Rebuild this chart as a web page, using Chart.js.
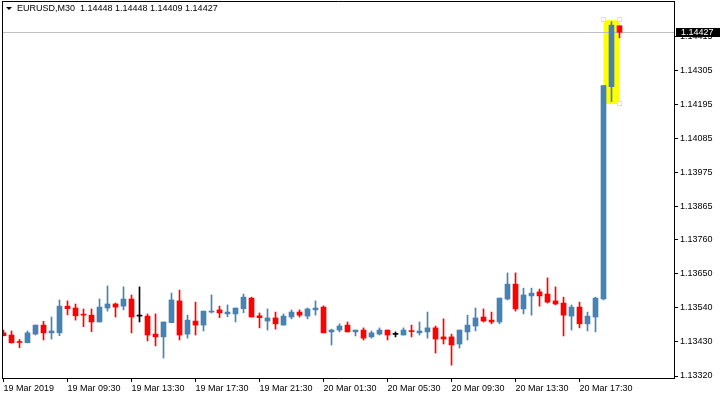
<!DOCTYPE html>
<html>
<head>
<meta charset="utf-8">
<title>EURUSD,M30</title>
<script src="https://cdn.jsdelivr.net/npm/chart.js@4.4.1/dist/chart.umd.min.js"></script>
<style>
  html, body { margin: 0; padding: 0; background: #ffffff; }
  #wrap { position: relative; width: 720px; height: 400px; }
  #c { position: absolute; left: 0; top: 0; }
  #title {
    position: absolute; left: 6px; top: 3px;
    font: 9px "Liberation Sans", Arial, sans-serif; color: #000;
    white-space: pre; line-height: 11px;
  }
  #title .tri {
    display: inline-block; width: 0; height: 0; vertical-align: 1px;
    border-left: 3px solid transparent; border-right: 3px solid transparent;
    border-top: 3px solid #000; margin-right: 5px;
  }
</style>
</head>
<body>
<div id="wrap">
  <canvas id="c" width="720" height="400"></canvas>
  <div id="title"><span class="tri"></span>EURUSD,M30  1.14448 1.14448 1.14409 1.14427</div>
</div>
<script>
// === Data (M30 candles, 19 Mar 05:30 .. 20 Mar 20:00) ===
const opens = [
  1.13459, 1.13452, 1.13431, 1.13427, 1.13455, 1.13484, 1.13459, 1.13459, 1.13545, 1.13539,
  1.13519, 1.13516, 1.13494, 1.13539, 1.13552, 1.13545, 1.13568, 1.13513, 1.13513, 1.13455,
  1.13446, 1.13492, 1.13562, 1.13455, 1.13497, 1.13484, 1.13526, 1.13533, 1.13520, 1.13520,
  1.13537, 1.13571, 1.13514, 1.13497, 1.13507, 1.13484, 1.13510, 1.13526, 1.13513, 1.13533,
  1.13542, 1.13462, 1.13468, 1.13484, 1.13462, 1.13468, 1.13446, 1.13455, 1.13468, 1.13454,
  1.13452, 1.13465, 1.13459, 1.13462, 1.13475, 1.13446, 1.13446, 1.13423, 1.13462, 1.13481,
  1.13510, 1.13500, 1.13494, 1.13568, 1.13616, 1.13536, 1.13578, 1.13591, 1.13584, 1.13562,
  1.13555, 1.13513, 1.13542, 1.13488, 1.13510, 1.13568, 1.14252, 1.14448
];
const highs = [
  1.13468, 1.13465, 1.13438, 1.13465, 1.13484, 1.13496, 1.13510, 1.13565, 1.13562, 1.13552,
  1.13536, 1.13536, 1.13568, 1.13610, 1.13555, 1.13607, 1.13581, 1.13607, 1.13520, 1.13520,
  1.13494, 1.13587, 1.13597, 1.13516, 1.13558, 1.13529, 1.13581, 1.13545, 1.13549, 1.13539,
  1.13584, 1.13574, 1.13523, 1.13536, 1.13526, 1.13520, 1.13533, 1.13533, 1.13539, 1.13562,
  1.13546, 1.13471, 1.13488, 1.13494, 1.13468, 1.13475, 1.13465, 1.13475, 1.13468, 1.13462,
  1.13475, 1.13484, 1.13494, 1.13526, 1.13481, 1.13504, 1.13455, 1.13468, 1.13516, 1.13539,
  1.13536, 1.13526, 1.13571, 1.13652, 1.13652, 1.13603, 1.13603, 1.13600, 1.13636, 1.13607,
  1.13574, 1.13549, 1.13558, 1.13526, 1.13574, 1.14255, 1.14461, 1.14448
];
const lows = [
  1.13449, 1.13426, 1.13411, 1.13427, 1.13452, 1.13436, 1.13439, 1.13450, 1.13517, 1.13500,
  1.13479, 1.13463, 1.13494, 1.13529, 1.13510, 1.13533, 1.13459, 1.13494, 1.13433, 1.13417,
  1.13378, 1.13492, 1.13436, 1.13442, 1.13452, 1.13465, 1.13523, 1.13508, 1.13511, 1.13494,
  1.13524, 1.13510, 1.13475, 1.13468, 1.13471, 1.13484, 1.13504, 1.13510, 1.13504, 1.13516,
  1.13459, 1.13420, 1.13462, 1.13462, 1.13449, 1.13436, 1.13442, 1.13452, 1.13436, 1.13446,
  1.13452, 1.13446, 1.13452, 1.13442, 1.13394, 1.13423, 1.13355, 1.13410, 1.13436, 1.13465,
  1.13494, 1.13488, 1.13488, 1.13565, 1.13529, 1.13520, 1.13516, 1.13545, 1.13555, 1.13549,
  1.13449, 1.13468, 1.13475, 1.13465, 1.13462, 1.13565, 1.14204, 1.14409
];
const closes = [
  1.13450, 1.13427, 1.13428, 1.13459, 1.13484, 1.13459, 1.13465, 1.13545, 1.13537, 1.13514,
  1.13516, 1.13494, 1.13542, 1.13552, 1.13542, 1.13568, 1.13510, 1.13513, 1.13452, 1.13446,
  1.13494, 1.13565, 1.13452, 1.13500, 1.13484, 1.13529, 1.13529, 1.13523, 1.13526, 1.13539,
  1.13574, 1.13510, 1.13508, 1.13507, 1.13488, 1.13513, 1.13526, 1.13516, 1.13536, 1.13539,
  1.13459, 1.13468, 1.13481, 1.13462, 1.13468, 1.13442, 1.13459, 1.13468, 1.13452, 1.13454,
  1.13468, 1.13463, 1.13465, 1.13475, 1.13439, 1.13439, 1.13420, 1.13468, 1.13484, 1.13507,
  1.13497, 1.13494, 1.13571, 1.13616, 1.13536, 1.13581, 1.13587, 1.13578, 1.13558, 1.13552,
  1.13516, 1.13542, 1.13488, 1.13513, 1.13571, 1.14255, 1.14450, 1.14427
];

// axis labels
const timeTickIdx = [0, 8, 16, 24, 32, 40, 48, 56, 64, 72];
const timeLabels = ["19 Mar 2019", "19 Mar 09:30", "19 Mar 13:30", "19 Mar 17:30", "19 Mar 21:30",
                    "20 Mar 01:30", "20 Mar 05:30", "20 Mar 09:30", "20 Mar 13:30", "20 Mar 17:30"];
const priceTicks = [1.14415, 1.14305, 1.14195, 1.14085, 1.13975, 1.13865,
                    1.13760, 1.13650, 1.13540, 1.13430, 1.13320];

// selected rectangle object (candle index / price)
const rectIdx = [75, 77];
const rectPrice = [1.14466, 1.14196];

// === Colours ===
const BULL = "#4682B4";
const BEAR = "#FF0000";
const DOJI = "#000000";
const FONT = { family: "'Liberation Sans', Arial, sans-serif", size: 9 };

const candleColors = closes.map((c, i) => c > opens[i] ? BULL : (c < opens[i] ? BEAR : DOJI));
const bodies = opens.map((o, i) => ({ x: i, y: [o, closes[i]] }));
const wicks = lows.map((l, i) => ({ x: i, y: [l, highs[i]] }));
const lastClose = closes[closes.length - 1];

// no label padding around the plot, MT style
function noPad(s) {
  s.paddingTop = 0; s.paddingBottom = 0; s.paddingLeft = 0; s.paddingRight = 0;
}

// === Drawing helpers (frame, price line, rectangle, price label) ===
const mtOverlay = {
  id: "mtOverlay",
  beforeDatasetsDraw(chart) {
    const { ctx, chartArea: a, scales: { x, y } } = chart;
    ctx.save();
    // rectangle object
    const x1 = x.getPixelForValue(rectIdx[0]), x2 = x.getPixelForValue(rectIdx[1]);
    const y1 = y.getPixelForValue(rectPrice[0]), y2 = y.getPixelForValue(rectPrice[1]);
    ctx.fillStyle = "#FFFF00";
    ctx.fillRect(x1, y1, x2 - x1, y2 - y1);
    // anchor points
    ctx.strokeStyle = "#FFFF00";
    ctx.fillStyle = "#FFFFFF";
    ctx.lineWidth = 1;
    [[x1, y1], [x2, y1], [x2, y2], [x1, y2]].forEach(p => {
      const px = Math.round(p[0]) - 2.5, py = Math.round(p[1]) - 2.5;
      ctx.fillRect(px, py, 4, 4);
      ctx.strokeRect(px, py, 4, 4);
    });
    // current price line
    const py = Math.round(y.getPixelForValue(lastClose)) + 0.5;
    ctx.strokeStyle = "#C0C0C0";
    ctx.beginPath();
    ctx.moveTo(a.left, py);
    ctx.lineTo(a.right, py);
    ctx.stroke();
    ctx.restore();
  },
  afterDraw(chart) {
    const { ctx, chartArea: a, scales: { y } } = chart;
    ctx.save();
    ctx.strokeStyle = "#000";
    ctx.lineWidth = 1;
    ctx.beginPath();
    ctx.moveTo(a.left + 0.5, a.top);
    ctx.lineTo(a.left + 0.5, a.bottom);
    ctx.moveTo(a.left, a.top + 0.5);
    ctx.lineTo(a.right + 1, a.top + 0.5);
    ctx.stroke();
    // price label
    const py = y.getPixelForValue(lastClose);
    ctx.fillStyle = "#000";
    ctx.fillRect(a.right + 2, Math.round(py) - 4, chart.width - a.right - 2, 9);
    ctx.fillStyle = "#FFF";
    ctx.font = `${FONT.size}px ${FONT.family}`;
    ctx.textBaseline = "middle";
    ctx.fillText(lastClose.toFixed(5), a.right + 7, Math.round(py) + 0.5);
    ctx.restore();
  }
};

// === Chart ===
new Chart(document.getElementById("c"), {
  type: "bar",
  data: {
    datasets: [
      {
        label: "body",
        data: bodies,
        backgroundColor: candleColors,
        barThickness: 5,
        minBarLength: 1,
        grouped: false
      },
      {
        label: "wick",
        data: wicks,
        backgroundColor: candleColors,
        barThickness: 1,
        grouped: false
      }
    ]
  },
  options: {
    responsive: false,
    animation: false,
    layout: { padding: { top: 1, left: 2, right: 0, bottom: 0 } },
    plugins: {
      legend: { display: false },
      tooltip: { enabled: false },
      title: { display: false }
    },
    scales: {
      x: {
        type: "linear",
        offset: false,
        min: -0.1875,
        max: 83.8125,
        afterFit: s => { s.height = 22; noPad(s); },
        afterBuildTicks: s => { s.ticks = timeTickIdx.map(v => ({ value: v })); },
        grid: { offset: false, drawOnChartArea: false, tickLength: 4, color: "#000" },
        border: { color: "#000" },
        ticks: {
          align: "start",
          maxRotation: 0,
          autoSkip: false,
          padding: 1,
          color: "#000",
          font: FONT,
          callback: v => timeLabels[timeTickIdx.indexOf(v)]
        }
      },
      y: {
        position: "right",
        min: 1.133136,
        max: 1.145278,
        afterFit: s => { s.width = 46; noPad(s); },
        afterBuildTicks: s => { s.ticks = priceTicks.map(v => ({ value: v })); },
        grid: { drawOnChartArea: false, tickLength: 4, color: "#000" },
        border: { color: "#000" },
        ticks: {
          padding: 2,
          color: "#000",
          font: FONT,
          callback: v => v.toFixed(5)
        }
      }
    }
  },
  plugins: [mtOverlay]
});
</script>
</body>
</html>
